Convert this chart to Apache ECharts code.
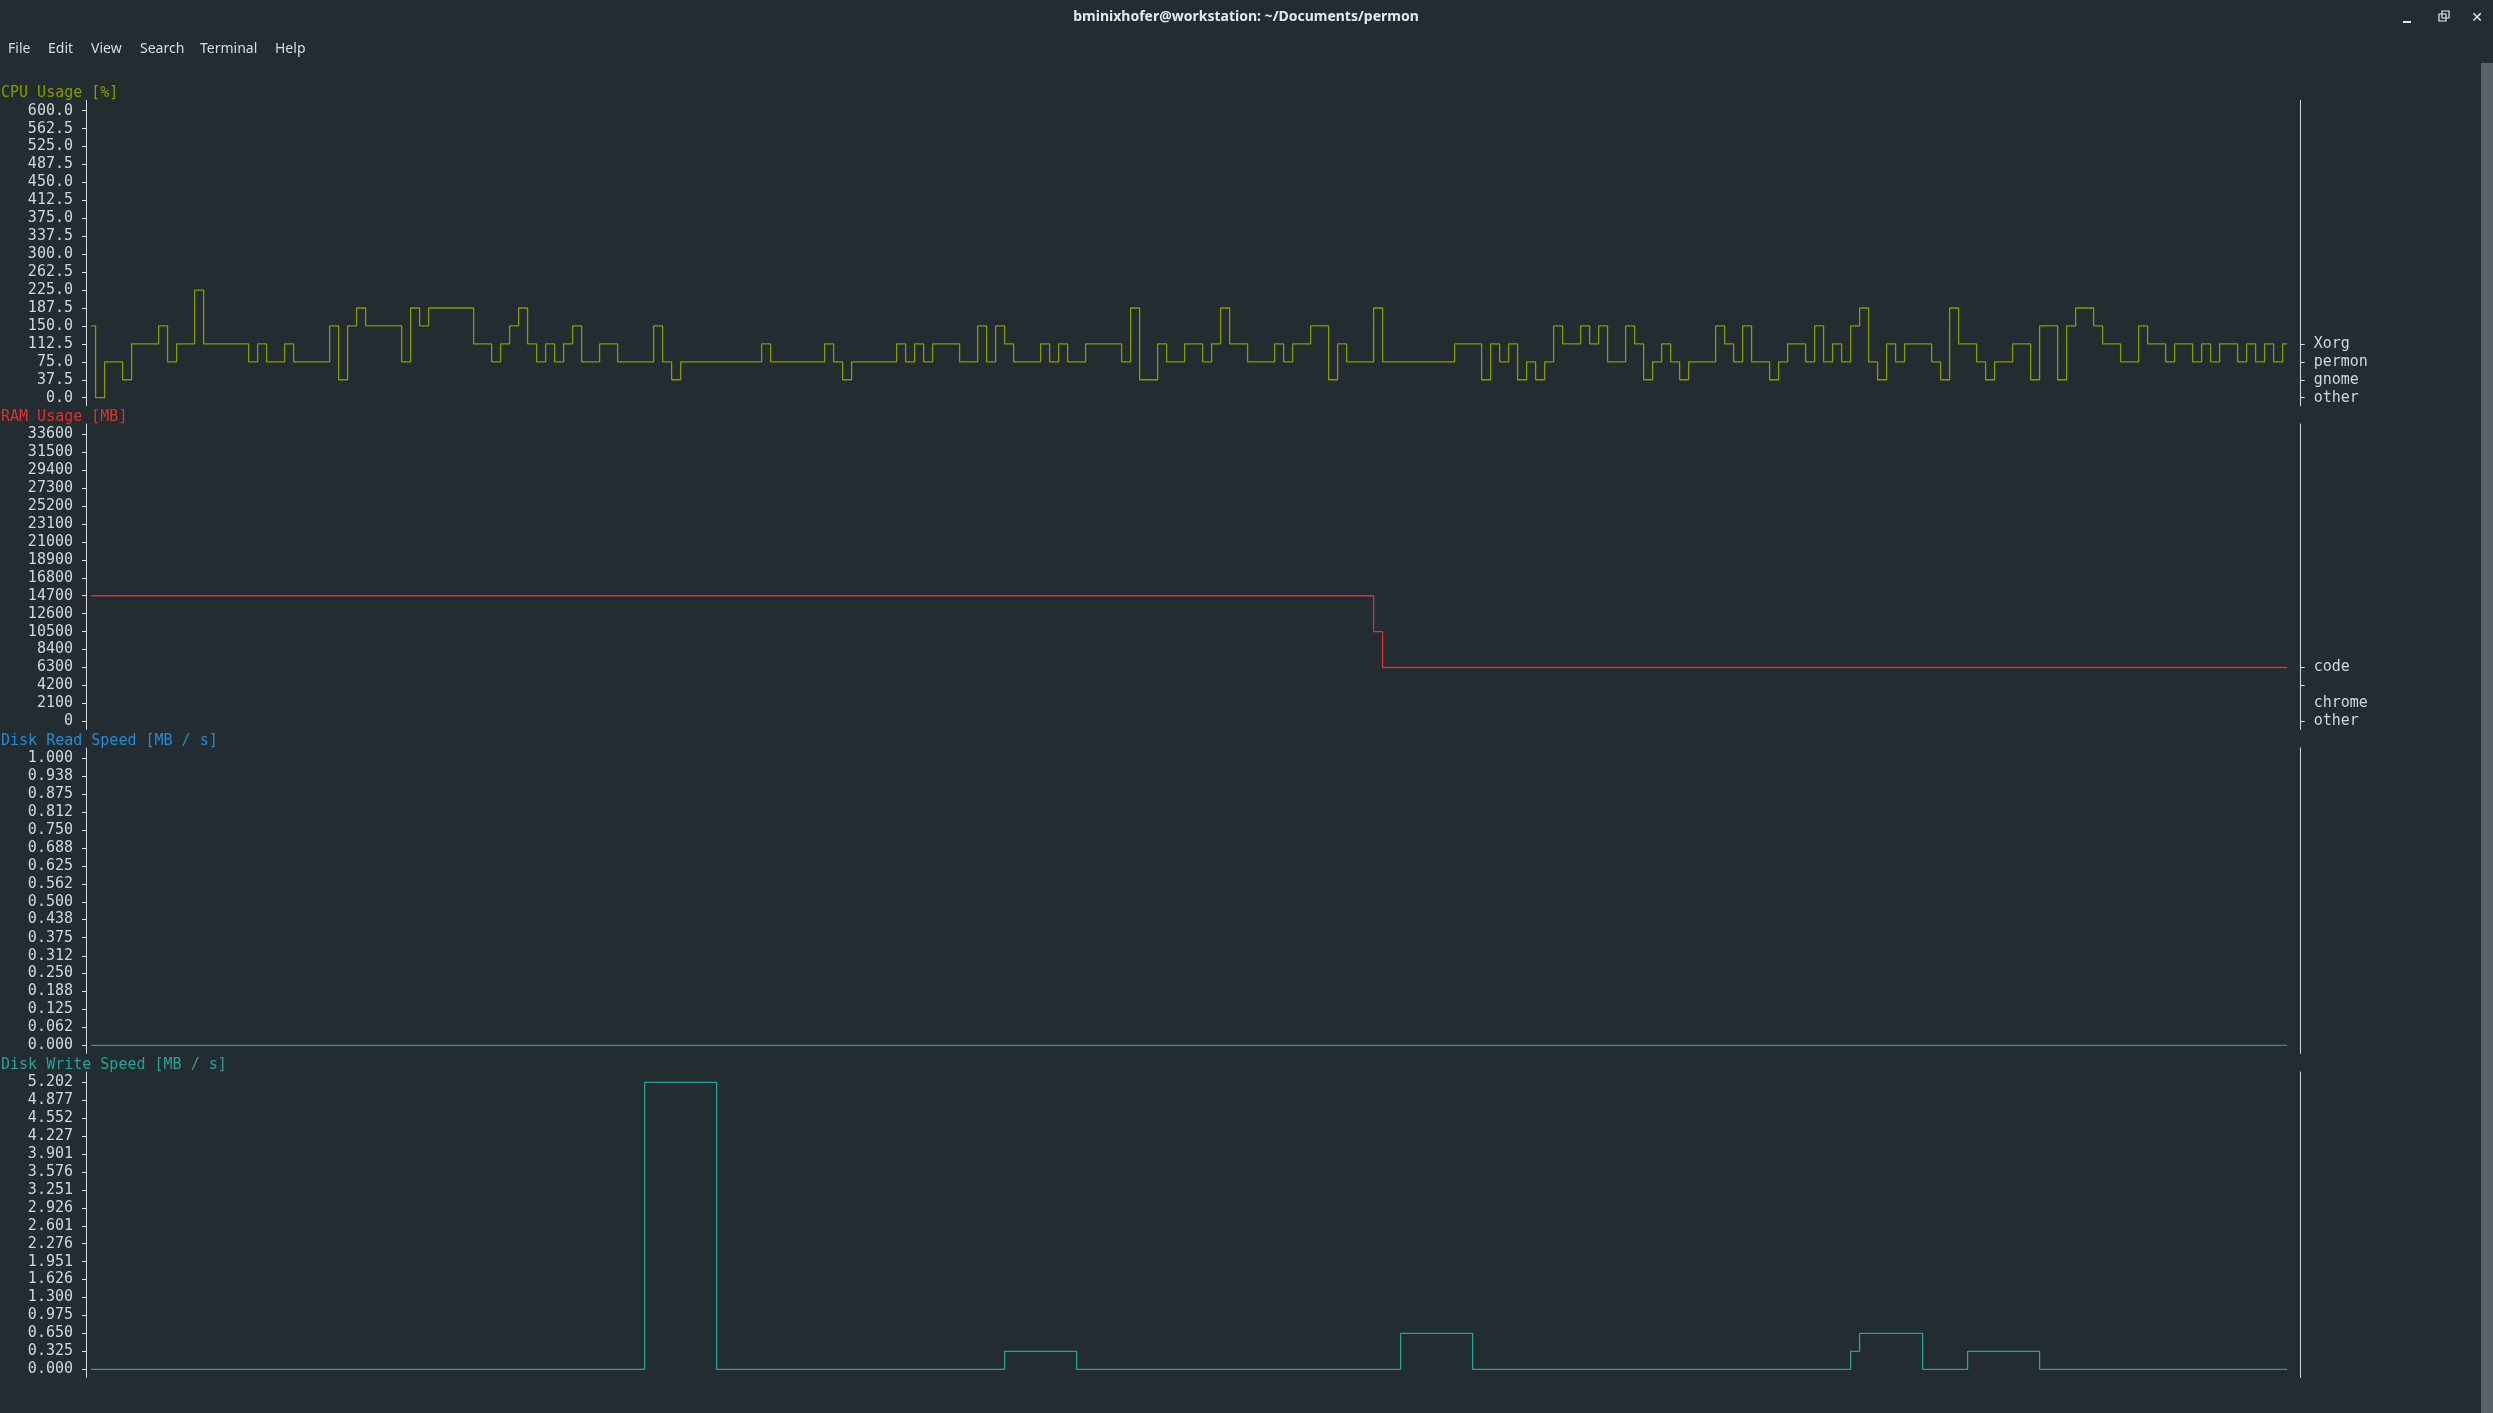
<!DOCTYPE html>
<html><head><meta charset="utf-8">
<script src="https://cdn.jsdelivr.net/npm/echarts@6/dist/echarts.min.js"></script>
<style>html,body{margin:0;padding:0;background:#232c31;overflow:hidden}#c{width:2493px;height:1413px}</style>
</head><body><div id="c"></div>
<script>
// ---------------- DATA ----------------
const panelTitles = ["CPU Usage [%]", "RAM Usage [MB]", "Disk Read Speed [MB / s]", "Disk Write Speed [MB / s]"];

const cpuTickLabels = ["600.0","562.5","525.0","487.5","450.0","412.5","375.0","337.5","300.0","262.5","225.0","187.5","150.0","112.5","75.0","37.5","0.0"];
const ramTickLabels = ["33600","31500","29400","27300","25200","23100","21000","18900","16800","14700","12600","10500","8400","6300","4200","2100","0"];
const readTickLabels = ["1.000","0.938","0.875","0.812","0.750","0.688","0.625","0.562","0.500","0.438","0.375","0.312","0.250","0.188","0.125","0.062","0.000"];
const writeTickLabels = ["5.202","4.877","4.552","4.227","3.901","3.576","3.251","2.926","2.601","2.276","1.951","1.626","1.300","0.975","0.650","0.325","0.000"];

const cpuLegendLabels = ["Xorg","permon","gnome","other"];
const cpuLegendValues = [112.5, 75, 37.5, 0];
const ramLegendLabels = ["code","chrome","other"];
const ramLegendLabelValues = [6300, 2100, 0];
const ramLegendTickValues = [6300, 4200, 0];

// one value per sample (245 samples)
const cpuUsage = [
150,0,75,75,37.5,112.5,112.5,112.5,150,75,
112.5,112.5,225,112.5,112.5,112.5,112.5,112.5,75,112.5,
75,75,112.5,75,75,75,75,150,37.5,150,
187.5,150,150,150,150,75,187.5,150,187.5,187.5,
187.5,187.5,187.5,112.5,112.5,75,112.5,150,187.5,112.5,
75,112.5,75,112.5,150,75,75,112.5,112.5,75,
75,75,75,150,75,37.5,75,75,75,75,
75,75,75,75,75,112.5,75,75,75,75,
75,75,112.5,75,37.5,75,75,75,75,75,
112.5,75,112.5,75,112.5,112.5,112.5,75,75,150,
75,150,112.5,75,75,75,112.5,75,112.5,75,
75,112.5,112.5,112.5,112.5,75,187.5,37.5,37.5,112.5,
75,75,112.5,112.5,75,112.5,187.5,112.5,112.5,75,
75,75,112.5,75,112.5,112.5,150,150,37.5,112.5,
75,75,75,187.5,75,75,75,75,75,75,
75,75,112.5,112.5,112.5,37.5,112.5,75,112.5,37.5,
75,37.5,75,150,112.5,112.5,150,112.5,150,75,
75,150,112.5,37.5,75,112.5,75,37.5,75,75,
75,150,112.5,75,150,75,75,37.5,75,112.5,
112.5,75,150,75,112.5,75,150,187.5,75,37.5,
112.5,75,112.5,112.5,112.5,75,37.5,187.5,112.5,112.5,
75,37.5,75,75,112.5,112.5,37.5,150,150,37.5,
150,187.5,187.5,150,112.5,112.5,75,75,150,112.5,
112.5,75,112.5,112.5,75,112.5,75,112.5,112.5,75,
112.5,75,112.5,75,112.5
];

const ramUsage = [
14700,14700,14700,14700,14700,14700,14700,14700,14700,14700,
14700,14700,14700,14700,14700,14700,14700,14700,14700,14700,
14700,14700,14700,14700,14700,14700,14700,14700,14700,14700,
14700,14700,14700,14700,14700,14700,14700,14700,14700,14700,
14700,14700,14700,14700,14700,14700,14700,14700,14700,14700,
14700,14700,14700,14700,14700,14700,14700,14700,14700,14700,
14700,14700,14700,14700,14700,14700,14700,14700,14700,14700,
14700,14700,14700,14700,14700,14700,14700,14700,14700,14700,
14700,14700,14700,14700,14700,14700,14700,14700,14700,14700,
14700,14700,14700,14700,14700,14700,14700,14700,14700,14700,
14700,14700,14700,14700,14700,14700,14700,14700,14700,14700,
14700,14700,14700,14700,14700,14700,14700,14700,14700,14700,
14700,14700,14700,14700,14700,14700,14700,14700,14700,14700,
14700,14700,14700,14700,14700,14700,14700,14700,14700,14700,
14700,14700,14700,10500,6300,6300,6300,6300,6300,6300,
6300,6300,6300,6300,6300,6300,6300,6300,6300,6300,
6300,6300,6300,6300,6300,6300,6300,6300,6300,6300,
6300,6300,6300,6300,6300,6300,6300,6300,6300,6300,
6300,6300,6300,6300,6300,6300,6300,6300,6300,6300,
6300,6300,6300,6300,6300,6300,6300,6300,6300,6300,
6300,6300,6300,6300,6300,6300,6300,6300,6300,6300,
6300,6300,6300,6300,6300,6300,6300,6300,6300,6300,
6300,6300,6300,6300,6300,6300,6300,6300,6300,6300,
6300,6300,6300,6300,6300,6300,6300,6300,6300,6300,
6300,6300,6300,6300,6300
];

const diskRead = [
0,0,0,0,0,0,0,0,0,0, 0,0,0,0,0,0,0,0,0,0, 0,0,0,0,0,0,0,0,0,0,
0,0,0,0,0,0,0,0,0,0, 0,0,0,0,0,0,0,0,0,0, 0,0,0,0,0,0,0,0,0,0,
0,0,0,0,0,0,0,0,0,0, 0,0,0,0,0,0,0,0,0,0, 0,0,0,0,0,0,0,0,0,0,
0,0,0,0,0,0,0,0,0,0, 0,0,0,0,0,0,0,0,0,0, 0,0,0,0,0,0,0,0,0,0,
0,0,0,0,0,0,0,0,0,0, 0,0,0,0,0,0,0,0,0,0, 0,0,0,0,0,0,0,0,0,0,
0,0,0,0,0,0,0,0,0,0, 0,0,0,0,0,0,0,0,0,0, 0,0,0,0,0,0,0,0,0,0,
0,0,0,0,0,0,0,0,0,0, 0,0,0,0,0,0,0,0,0,0, 0,0,0,0,0,0,0,0,0,0,
0,0,0,0,0,0,0,0,0,0, 0,0,0,0,0,0,0,0,0,0, 0,0,0,0,0,0,0,0,0,0,
0,0,0,0,0
];

const diskWrite = [
0,0,0,0,0,0,0,0,0,0, 0,0,0,0,0,0,0,0,0,0, 0,0,0,0,0,0,0,0,0,0,
0,0,0,0,0,0,0,0,0,0, 0,0,0,0,0,0,0,0,0,0, 0,0,0,0,0,0,0,0,0,0,
0,0,5.202,5.202,5.202,5.202,5.202,5.202,5.202,5.202,
0,0,0,0,0,0,0,0,0,0, 0,0,0,0,0,0,0,0,0,0, 0,0,0,0,0,0,0,0,0,0,
0,0,0.325,0.325,0.325,0.325,0.325,0.325,0.325,0.325,
0,0,0,0,0,0,0,0,0,0, 0,0,0,0,0,0,0,0,0,0, 0,0,0,0,0,0,0,0,0,0,
0,0,0,0,0,0,0.65,0.65,0.65,0.65,0.65,0.65,0.65,0.65,
0,0,0,0,0,0,0,0,0,0, 0,0,0,0,0,0,0,0,0,0, 0,0,0,0,0,0,0,0,0,0,
0,0,0,0,0,0,0,0,0,0, 0,0,
0.325,0.65,0.65,0.65,0.65,0.65,0.65,0.65,
0,0,0,0,0,
0.325,0.325,0.325,0.325,0.325,0.325,0.325,0.325,
0,0,0,0,0,0,0,0,0,0, 0,0,0,0,0,0,0,0,0,0, 0,0,0,0,0,0,0,0
];

// ---------------- STYLE / LAYOUT ----------------
const BG = '#232c31';
const TXT = '#cfd8dc';
const AXIS = '#d5dde2';
const colors = ['#859900', '#dc322f', '#268bd2', '#2aa198'];
const MONO = '"DejaVu Sans Mono", "Liberation Mono", monospace';
const topLabelY = [110.7, 434.3, 758.3, 1082.3];
const SPAN = 287;          // px from top tick to zero tick
const ABOVE = 10.3, BELOW = 8;
const LEFT = 86, RIGHT_X = 2300.7;

const series = [cpuUsage, ramUsage, diskRead, diskWrite];
const tickLabelSets = [cpuTickLabels, ramTickLabels, readTickLabels, writeTickLabels];

function labelFmt(values, labels) {
  return function (v) {
    for (let i = 0; i < values.length; i++) if (Math.abs(values[i] - v) < 1e-6) return labels[i];
    return '';
  };
}

const grids = [], xAxes = [], yAxes = [], seriesOpts = [], graphics = [];
for (let p = 0; p < 4; p++) {
  const labels = tickLabelSets[p];
  const values = labels.map(Number);
  const vmax = values[0];
  const upp = vmax / SPAN;
  grids.push({ left: LEFT, width: RIGHT_X - LEFT, top: topLabelY[p] - ABOVE, height: SPAN + ABOVE + BELOW, containLabel: false });
  xAxes.push({ gridIndex: p, type: 'value', min: -0.567, max: 245.51, show: false });
  const yMin = -BELOW * upp, yMax = vmax + ABOVE * upp;
  yAxes.push({
    gridIndex: p, type: 'value', position: 'left', min: yMin, max: yMax,
    axisLine: { show: true, onZero: false, lineStyle: { color: AXIS, width: 1 } },
    axisTick: { show: true, length: 4, customValues: values, lineStyle: { color: AXIS } },
    axisLabel: { show: true, customValues: values, formatter: labelFmt(values, labels), color: TXT,
      fontFamily: MONO, fontSize: 15, margin: 13 },
    splitLine: { show: false }
  });
  let legVals = [], legTicks = [], legLabels = [];
  if (p === 0) { legVals = cpuLegendValues; legTicks = cpuLegendValues; legLabels = cpuLegendLabels; }
  if (p === 1) { legVals = ramLegendLabelValues; legTicks = ramLegendTickValues; legLabels = ramLegendLabels; }
  yAxes.push({
    gridIndex: p, type: 'value', position: 'right', min: yMin, max: yMax,
    axisLine: { show: true, onZero: false, lineStyle: { color: AXIS, width: 1 } },
    axisTick: { show: legTicks.length > 0, length: 4, customValues: legTicks.length ? legTicks : [0], lineStyle: { color: AXIS } },
    axisLabel: { show: legVals.length > 0, customValues: legVals.length ? legVals : [0], formatter: labelFmt(legVals, legLabels), color: TXT,
      fontFamily: MONO, fontSize: 15, margin: 13, align: 'left' },
    splitLine: { show: false }
  });
  seriesOpts.push({
    type: 'line', name: panelTitles[p], xAxisIndex: p, yAxisIndex: p * 2,
    data: series[p].map((v, i) => [i, v]),
    step: 'middle', showSymbol: false, symbol: 'none', clip: false,
    lineStyle: { color: colors[p], width: 1.3 }, silent: true
  });
  graphics.push({ type: 'text', left: 1, top: topLabelY[p] - 18 - 7,
    style: { text: panelTitles[p], fill: colors[p], font: '15px ' + MONO } });
}

// window chrome (title bar, menu, scrollbar)
graphics.push({ type: 'text', x: 1246, y: 17.5, style: { text: 'bminixhofer@workstation: ~/Documents/permon', fill: '#e6eaec',
  font: 'bold 14px "Noto Sans", "DejaVu Sans", sans-serif', align: 'center', verticalAlign: 'middle' } });
const menuItems = ['File', 'Edit', 'View', 'Search', 'Terminal', 'Help'];
const menuX = [8, 48, 91, 140, 200, 275];
menuItems.forEach((m, i) => graphics.push({ type: 'text', x: menuX[i], y: 49.5,
  style: { text: m, fill: '#d8dde0', font: '14px "Noto Sans", "DejaVu Sans", sans-serif', verticalAlign: 'middle' } }));
graphics.push({ type: 'rect', shape: { x: 2403, y: 21, width: 8, height: 2 }, style: { fill: '#e6eaec' } });
graphics.push({ type: 'rect', shape: { x: 2439, y: 14, width: 7, height: 7 }, style: { fill: 'none', stroke: '#e6eaec', lineWidth: 1.2 } });
graphics.push({ type: 'rect', shape: { x: 2442, y: 11, width: 7, height: 7 }, style: { fill: 'none', stroke: '#e6eaec', lineWidth: 1.2 } });
graphics.push({ type: 'text', x: 2477, y: 18, style: { text: '✕', fill: '#e6eaec', font: '14px "DejaVu Sans", sans-serif', align: 'center', verticalAlign: 'middle' } });
graphics.push({ type: 'rect', shape: { x: 2481, y: 63, width: 12, height: 1350 }, style: { fill: '#5a6268' } });

const chart = echarts.init(document.getElementById('c'), null, { renderer: 'canvas' });
chart.setOption({
  backgroundColor: BG,
  animation: false,
  grid: grids, xAxis: xAxes, yAxis: yAxes, series: seriesOpts,
  graphic: graphics
});
</script></body></html>
